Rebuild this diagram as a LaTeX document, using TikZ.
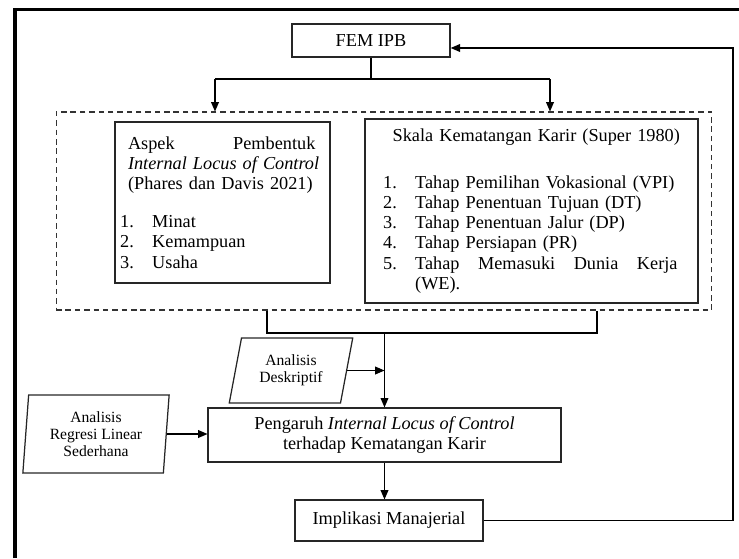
\documentclass[tikz,border=0pt]{standalone}
\usepackage{fontspec}
\setmainfont{Liberation Serif}
\usetikzlibrary{arrows.meta,shapes.geometric}
\tikzset{
	kotak/.style={draw=black!85, line width=0.8pt, inner sep=0pt, align=center, font=\fontsize{11.7}{13}\selectfont},
	jajar/.style={trapezium, trapezium stretches=true, draw=black!85, line width=0.8pt, inner sep=0pt, align=center, font=\fontsize{10}{11}\selectfont},
	putus/.style={draw=black!80, line width=0.7pt, dash pattern=on 3.5pt off 2.5pt},
	garis/.style={line width=0.7pt},
	panah/.style={line width=0.7pt, -{Triangle[length=6pt,width=5pt]}},
}
\newcommand{\nomor}[2]{\makebox[20.5pt][l]{#1}#2}

\begin{document}
\begin{tikzpicture}[x=0.0225cm, y=-0.0225cm]
		%%%%% START %%%%%
		\useasboundingbox (0,0) rectangle (739,558);
		
		\draw[line width=2pt] (15,558) -- (15,9.5) -- (739,9.5);
		
		\node[kotak, minimum width=3.56cm, minimum height=0.74cm] (fem) at (371,40.5) {FEM IPB};
		
		\node[putus, minimum width=14.76cm, minimum height=4.455cm] (kelompok) at (384,211) {};
		
		\node[kotak, minimum width=4.84cm, minimum height=3.62cm, inner xsep=3.2pt, text width=131pt, align=left] (aspek) at (222.5,202.5) {%
			\hspace*{5pt}\makebox[120pt][s]{Aspek\hfill Pembentuk}\\
			\hspace*{5pt}\textit{Internal Locus of Control}\\
			\hspace*{5pt}(Phares dan Davis 2021)\\[11pt]
			\nomor{1.}{Minat}\\
			\nomor{2.}{Kemampuan}\\
			\nomor{3.}{Usaha}};
		
		\node[kotak, minimum width=7.49cm, minimum height=4.14cm, inner xsep=11.5pt, text width=190pt, align=left] (skala) at (531.5,211) {%
			\hfill Skala Kematangan Karir (Super 1980)\\[17pt]
			\nomor{1.}{Tahap Pemilihan Vokasional (VPI)}\\
			\nomor{2.}{Tahap Penentuan Tujuan (DT)}\\
			\nomor{3.}{Tahap Penentuan Jalur (DP)}\\
			\nomor{4.}{Tahap Persiapan (PR)}\\
			\nomor{5.}{\makebox[168pt][s]{Tahap\hfill Memasuki\hfill Dunia\hfill Kerja}}\\
			\hspace*{20.5pt}(WE).};
		
		\node[jajar, trapezium left angle=76, trapezium right angle=104, minimum width=2.79cm, minimum height=1.46cm] (deskriptif) at (291,370.5) {Analisis\\Deskriptif};
		\node[jajar, trapezium left angle=85, trapezium right angle=95, minimum width=3.31cm, minimum height=1.755cm] (regresi) at (96,434) {Analisis\\Regresi Linear\\Sederhana};
		
		\node[kotak, minimum width=7.94cm, minimum height=1.215cm] (pengaruh) at (384.5,435) {Pengaruh \textit{Internal Locus of Control}\\terhadap Kematangan Karir};
		\node[kotak, minimum width=4.23cm, minimum height=0.92cm] (implikasi) at (389,520.5) {Implikasi Manajerial};
		
		% cabang atas
		\coordinate (cabangkiri) at (215,79);
		\coordinate (cabangkanan) at (550,79);
		\draw[garis] (fem.south) -- (fem.south |- cabangkiri);
		\draw[garis] (cabangkiri) -- (cabangkanan);
		\draw[panah] (cabangkiri) -- (cabangkiri |- kelompok.north);
		\draw[panah] (cabangkanan) -- (cabangkanan |- kelompok.north);
		
		% gabung bawah
		\coordinate (gabungkiri) at (267,333);
		\coordinate (gabungkanan) at (597,333);
		\draw[garis] (gabungkiri |- kelompok.south) -- (gabungkiri) -- (gabungkanan) -- (gabungkanan |- kelompok.south);
		\draw[panah] (pengaruh.north |- gabungkiri) -- (pengaruh.north);
		
		\draw[panah] (deskriptif.east) -- (deskriptif.east -| pengaruh.north);
		\draw[panah] (regresi.east) -- (regresi.east -| pengaruh.west);
		\draw[panah] (pengaruh.south) -- (pengaruh.south |- implikasi.north);
		
		% umpan balik
		\coordinate (balik) at (733,0);
		\coordinate (masuk) at ([yshift=-4.8pt]fem.east);
		\draw[panah] (implikasi.east) -| (balik |- masuk) -- (masuk);
		
		%%%%% END %%%%%
\end{tikzpicture}
\end{document}
